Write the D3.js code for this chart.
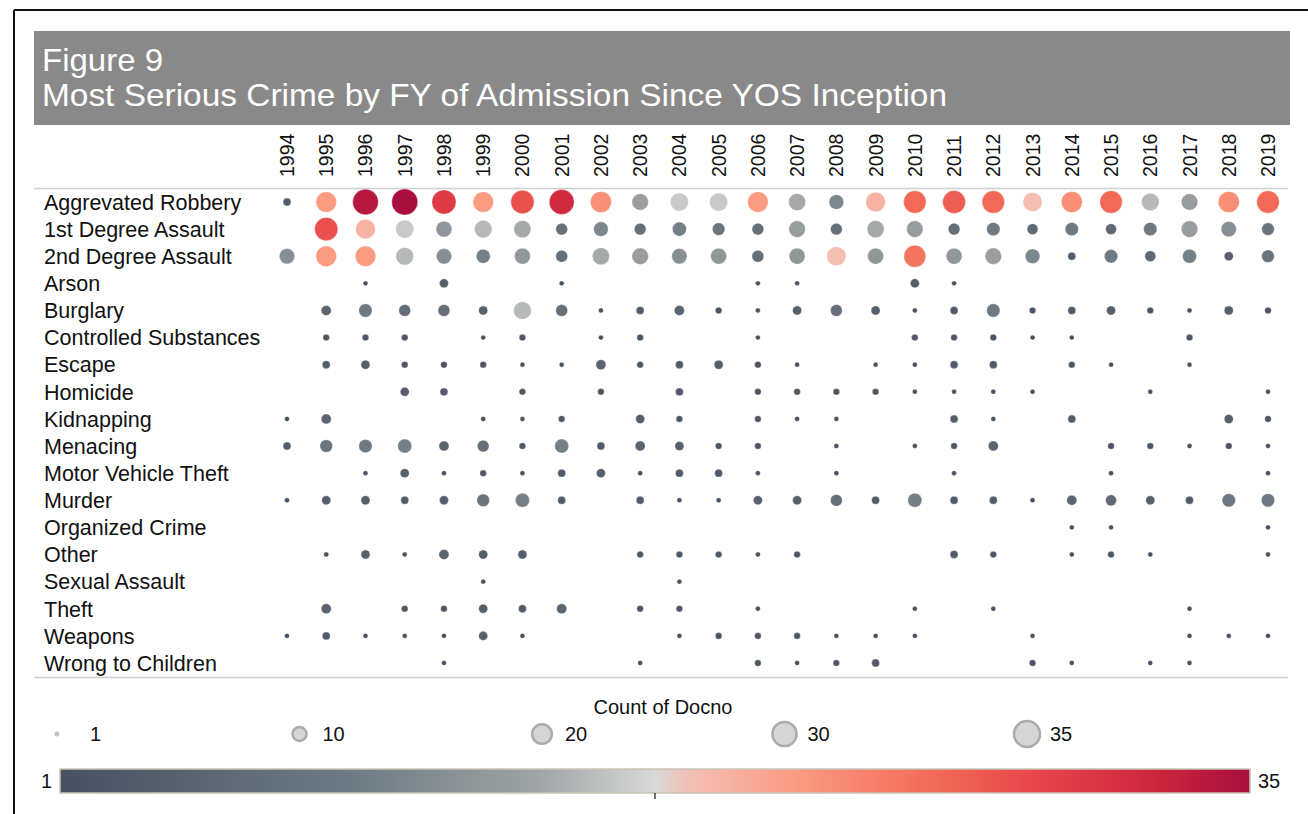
<!DOCTYPE html>
<html>
<head>
<meta charset="utf-8">
<script src="https://cdn.jsdelivr.net/npm/d3@7"></script>
<style>
  html, body { margin: 0; padding: 0; background: #fff; }
  svg { display: block; }
  text { font-family: "Liberation Sans", Arial, Helvetica, sans-serif; }
</style>
</head>
<body>
<svg id="chart" width="1308" height="814"></svg>
<script>
// ---------- DATA ----------
const years = [1994,1995,1996,1997,1998,1999,2000,2001,2002,2003,2004,2005,2006,2007,2008,2009,2010,2011,2012,2013,2014,2015,2016,2017,2018,2019];
const crimes = ["Aggrevated Robbery","1st Degree Assault","2nd Degree Assault","Arson","Burglary","Controlled Substances","Escape","Homicide","Kidnapping","Menacing","Motor Vehicle Theft","Murder","Organized Crime","Other","Sexual Assault","Theft","Weapons","Wrong to Children"];
const _ = null;
const aggrevatedRobbery    = [3,22,34,35,30,22,28,32,23,14,17,17,22,15,11,20,26,27,26,19,23,26,16,14,23,26];
const firstDegreeAssault   = [_,28,20,17,13,16,15,7,11,7,10,8,7,14,7,15,14,7,9,6,9,6,9,14,12,8];
const secondDegreeAssault  = [12,22,22,16,12,10,13,7,15,14,12,13,7,13,19,13,25,13,14,11,3,9,6,10,4,8];
const arson                = [_,_,1,_,4,_,_,1,_,_,_,_,1,1,_,_,4,1,_,_,_,_,_,_,_,_];
const burglary             = [_,5,9,7,7,4,16,7,1,3,5,2,1,4,7,4,1,3,9,2,3,4,2,1,4,2];
const controlledSubstances = [_,2,2,2,_,1,2,_,1,2,_,_,1,_,_,_,2,2,2,1,1,_,_,2,_,_];
const escape               = [_,3,4,2,2,2,1,1,5,2,3,4,2,1,_,1,1,3,3,_,2,1,_,1,_,_];
const homicide             = [_,_,_,4,3,_,2,_,2,_,3,_,2,2,2,2,1,1,1,1,_,_,1,_,_,1];
const kidnapping           = [1,5,_,_,_,1,1,2,_,4,2,_,2,1,1,_,_,3,1,_,3,_,_,_,4,2];
const menacing             = [3,8,9,10,5,7,2,10,3,5,4,2,2,_,1,_,1,2,5,_,_,2,2,1,2,1];
const motorVehicleTheft    = [_,_,1,4,1,2,1,3,4,1,3,3,1,_,1,_,_,1,_,_,_,1,_,_,_,1];
const murder               = [1,4,4,3,4,8,10,3,_,3,1,1,4,4,7,3,10,3,3,1,5,6,4,3,9,9];
const organizedCrime       = [_,_,_,_,_,_,_,_,_,_,_,_,_,_,_,_,_,_,_,_,1,1,_,_,_,1];
const other                = [_,1,4,1,5,4,4,_,_,2,2,2,1,2,_,_,_,3,2,_,1,2,1,_,_,1];
const sexualAssault        = [_,_,_,_,_,1,_,_,_,_,1,_,_,_,_,_,_,_,_,_,_,_,_,_,_,_];
const theft                = [_,5,_,2,2,4,3,5,_,2,2,_,1,_,_,_,1,_,1,_,_,_,_,1,_,_];
const weapons              = [1,3,1,1,1,4,1,_,_,_,1,2,2,2,1,1,1,_,_,1,_,_,_,1,1,1];
const wrongToChildren      = [_,_,_,_,1,_,_,_,_,1,_,_,2,1,2,3,_,_,_,2,1,_,1,1,_,_];
const rowValues = [aggrevatedRobbery, firstDegreeAssault, secondDegreeAssault, arson, burglary,
  controlledSubstances, escape, homicide, kidnapping, menacing, motorVehicleTheft, murder,
  organizedCrime, other, sexualAssault, theft, weapons, wrongToChildren];
const sizeLegendValues = [1,10,20,30,35];
const colorDomain = [1,35];
const titleLines = ["Figure 9","Most Serious Crime by FY of Admission Since YOS Inception"];
const legendTitle = "Count of Docno";

// ---------- SCALES ----------
const svg = d3.select("#chart");
const x = d3.scalePoint().domain(years).range([287, 1268]);
const y = d3.scalePoint().domain(crimes).range([202, 663]);
const area = d3.scaleLinear().domain([1, 35]).range([6.0, 169]);
const r = v => Math.sqrt(area(v));
const color = d3.scaleLinear()
  .domain([1, 9.5, 14.6, 18, 19, 22, 26, 29, 32, 35])
  .range(["#485160","#6f7c85","#9ea3a3","#d9d9d9","#f4beb2","#fb9b82","#f26a57","#e6444a","#cf2a3e","#a80f3d"])
  .interpolate(d3.interpolateRgb);

// ---------- FRAME ----------
svg.append("line").attr("x1",14).attr("x2",1308).attr("y1",10).attr("y2",10).attr("stroke","#111").attr("stroke-width",2);
svg.append("line").attr("x1",14).attr("x2",14).attr("y1",10).attr("y2",814).attr("stroke","#111").attr("stroke-width",2);

// ---------- TITLE ----------
svg.append("rect").attr("x",34).attr("y",31).attr("width",1256).attr("height",94).attr("fill","#898989");
const tfont = '"Liberation Sans Narrow","Arial Narrow","Liberation Sans",Arial,sans-serif';
svg.append("text").attr("x",42).attr("y",71).attr("fill","#fff").attr("font-size",32)
  .style("font-family",tfont).attr("textLength",121).attr("lengthAdjust","spacingAndGlyphs").text(titleLines[0]);
svg.append("text").attr("x",42).attr("y",106).attr("fill","#fff").attr("font-size",32)
  .style("font-family",tfont).attr("textLength",905).attr("lengthAdjust","spacingAndGlyphs").text(titleLines[1]);

// ---------- YEAR HEADERS ----------
svg.append("g").selectAll("text").data(years).join("text")
  .attr("transform", d => `translate(${x(d)+7},177) rotate(-90)`)
  .attr("font-size",19.5).attr("fill","#111").text(d => d);

// separators
svg.append("line").attr("x1",34).attr("x2",1288).attr("y1",188.5).attr("y2",188.5).attr("stroke","#cfcfcf").attr("stroke-width",1.5);
svg.append("line").attr("x1",34).attr("x2",1288).attr("y1",677.5).attr("y2",677.5).attr("stroke","#cfcfcf").attr("stroke-width",1.5);

// ---------- ROW LABELS ----------
svg.append("g").selectAll("text").data(crimes).join("text")
  .attr("x",44).attr("y", d => y(d)).attr("dy","0.36em")
  .attr("font-size",21.5).attr("fill","#111").text(d => d);

// ---------- BUBBLES ----------
const cells = [];
crimes.forEach((c, i) => rowValues[i].forEach((v, j) => { if (v != null) cells.push({crime:c, year:years[j], v}); }));
svg.append("g").selectAll("circle").data(cells).join("circle")
  .attr("cx", d => x(d.year)).attr("cy", d => y(d.crime))
  .attr("r", d => r(d.v)).attr("fill", d => color(d.v))
  .attr("stroke","#fff").attr("stroke-width",0.5).attr("stroke-opacity",0.6);

// ---------- SIZE LEGEND ----------
svg.append("text").attr("x",663).attr("y",714).attr("text-anchor","middle").attr("font-size",20).attr("fill","#111").text(legendTitle);
const lx = d3.scalePoint().domain(sizeLegendValues).range([57, 1027]);
const lg = svg.append("g").selectAll("g").data(sizeLegendValues).join("g")
  .attr("transform", d => `translate(${lx(d)},734)`);
lg.append("circle").attr("r", d => d === 1 ? 2.5 : r(d))
  .attr("stroke", d => d === 1 ? "none" : "#ababab").attr("stroke-width",2.5)
  .attr("fill", d => d === 1 ? "#c4c4c4" : "#d6d6d6");
lg.append("text").attr("x", (d,i) => i === 0 ? 33 : 23).attr("dy","0.36em")
  .attr("font-size",20).attr("fill","#111").text(d => d);

// ---------- COLOR LEGEND ----------
const defs = svg.append("defs");
const grad = defs.append("linearGradient").attr("id","cgrad").attr("x1","0%").attr("x2","100%");
d3.range(0, 1.0001, 0.02).forEach(t => {
  grad.append("stop").attr("offset", (t*100)+"%").attr("stop-color", color(colorDomain[0] + t*(colorDomain[1]-colorDomain[0])));
});
const cb = d3.scaleLinear().domain(colorDomain).range([60, 1250]);
svg.append("rect").attr("x",cb(1)).attr("y",769).attr("width",cb(35)-cb(1)).attr("height",24)
  .attr("fill","url(#cgrad)").attr("stroke","#c9c3b6").attr("stroke-width",1.5);
svg.append("line").attr("x1",cb(18)).attr("x2",cb(18)).attr("y1",793).attr("y2",799).attr("stroke","#111").attr("stroke-width",1.2);
svg.append("text").attr("x",cb(1)-8).attr("y",781).attr("dy","0.36em").attr("text-anchor","end").attr("font-size",20).attr("fill","#111").text(colorDomain[0]);
svg.append("text").attr("x",cb(35)+8).attr("y",781).attr("dy","0.36em").attr("font-size",20).attr("fill","#111").text(colorDomain[1]);
</script>
</body>
</html>
